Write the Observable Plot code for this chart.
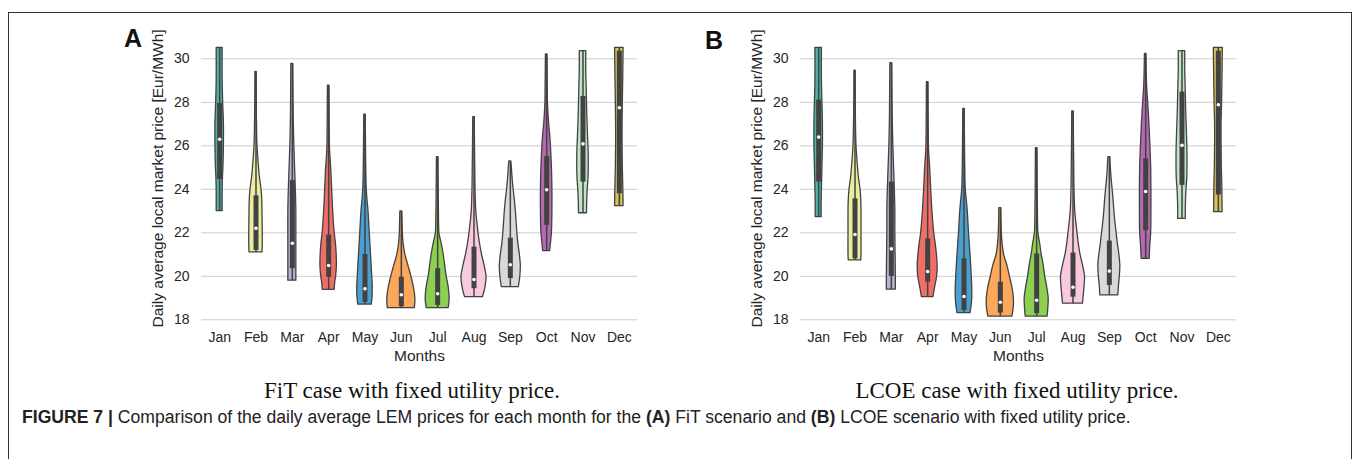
<!DOCTYPE html>
<html><head><meta charset="utf-8">
<script src="https://cdn.jsdelivr.net/npm/d3@7"></script>
<script src="https://cdn.jsdelivr.net/npm/@observablehq/plot@0.6"></script>
<style>
body{margin:0;background:#fff;}
#page{position:relative;width:1356px;height:459px;overflow:hidden;font-family:"Liberation Sans",Arial,sans-serif;}
.frame{position:absolute;left:8px;top:11.5px;width:1342px;height:480px;border:1.5px solid #333;border-bottom:none;}
.panel{position:absolute;top:0;}
.letter{position:absolute;font-weight:bold;font-size:25px;line-height:1;color:#111;}
.sub{position:absolute;font-family:"Liberation Serif","Times New Roman",serif;font-size:23px;line-height:1;color:#111;transform:translateX(-50%);white-space:nowrap;}
.caption{position:absolute;left:22px;font-size:17.6px;line-height:1;color:#222;white-space:nowrap;}
</style></head>
<body>
<div id="page">
  <div class="frame"></div>
  <div class="panel" id="pa" style="left:141px"></div>
  <div class="panel" id="pb" style="left:740px"></div>
  <div class="letter" style="left:124px;top:26px">A</div>
  <div class="letter" style="left:705px;top:28px">B</div>
  <div class="sub" style="left:412px;top:379px">FiT case with fixed utility price.</div>
  <div class="sub" style="left:1017px;top:379px">LCOE case with fixed utility price.</div>
  <div class="caption" style="top:408.5px"><b>FIGURE 7 |</b> Comparison of the daily average LEM prices for each month for the <b>(A)</b> FiT scenario and <b>(B)</b> LCOE scenario with fixed utility price.</div>
</div>
<script>
const months = ["Jan","Feb","Mar","Apr","May","Jun","Jul","Aug","Sep","Oct","Nov","Dec"];
const monthColors = ["#4fb3aa","#ecec9e","#b7b2d6","#ef6f68","#4a9fcf","#fba85a","#8dcf50","#f8c9df","#d9d9d9","#b569b3","#bfe5c5","#d5c25a"];
const yTicks = [18,20,22,24,26,28,30];

// Violin profiles: [price, relative width] (panel A: FiT)
const fitProfiles = [
  [[23.0,6],[24,6],[24.5,6.5],[25,7.5],[26,8.5],[27,8.5],[28,7],[29,6],[30.5,6]],
  [[21.1,13],[21.5,13.5],[22,13.5],[23,13],[23.5,12.5],[24,11],[24.5,8],[25,6],[26,3],[27,2],[28,1.5],[29.4,1.2]],
  [[19.8,8],[20.3,8],[21,8],[22,8],[23,8],[24,7],[25,5.5],[26,4],[27,3],[28,2.5],[29.77,2]],
  [[19.38,12],[19.7,13],[20,15],[20.5,16.5],[21,16],[21.5,14.5],[22,12],[23,9],[24,7],[25,5],[25.5,3.5],[26,2.5],[27,2],[28.77,1.5]],
  [[18.7,13.5],[19,15],[19.5,15.5],[20,14.5],[21,12],[22,9.5],[23,7],[23.5,5],[24,3.5],[25,2.5],[26,2],[27.43,1.5]],
  [[18.54,27],[18.8,28],[19,28],[19.5,25],[20,20],[20.5,14],[21,8],[21.5,4.5],[22,3],[22.5,2.5],[22.98,2]],
  [[18.54,22],[18.8,23.5],[19,24],[19.5,22],[20,18],[20.5,15],[21,12],[21.5,8],[21.8,5],[22,3.5],[23,2.5],[24,2],[25.48,1.5]],
  [[19.04,18],[19.5,23],[20,25],[20.5,21],[21,16],[21.5,12],[22,9],[22.5,6.5],[23,4.5],[24,3],[25,2.5],[26,2],[27.32,1.5]],
  [[19.5,17],[20,20],[20.5,21],[21,19],[21.5,16],[22,14],[22.5,12.5],[23,11],[23.5,9],[24,6.5],[24.5,4.5],[25,3],[25.28,2]],
  [[21.16,7],[21.5,8.5],[22,10.5],[23,11.5],[24,11.5],[25,10.5],[26,8.5],[26.5,7],[27,5],[27.5,3.5],[28,2.5],[29,2],[30.2,1.5]],
  [[22.9,8],[23.5,8.5],[24,9.5],[24.5,11],[25.5,11.5],[26.5,10],[27.5,8.5],[28.5,7.5],[29.5,6.5],[30.35,6.5]],
  [[23.23,8.5],[24,8],[25,7],[26,6.5],[27,6.5],[28,7],[29.5,8],[30.5,8.5]]
];
const fitQ1 = [24.45,21.19,20.35,19.95,18.8,18.6,18.66,19.43,19.9,22.34,24.33,23.8];
const fitMedian = [26.3,22.21,21.52,20.5,19.43,19.15,19.2,19.85,20.53,23.98,26.09,27.75];
const fitQ3 = [27.95,23.7,24.4,21.9,21.0,19.96,20.35,21.34,21.75,25.5,28.27,30.35];

// Panel B: LCOE
const lcoeProfiles = [
  [[22.72,6],[23.5,6],[24,6.5],[25,7.5],[26,8.5],[27,8.5],[28,7.5],[29,6.5],[30.5,6.5]],
  [[20.73,12.5],[21,13],[22,13],[23,13],[23.5,12.5],[24,11],[24.5,8],[25,6],[26,3],[27,2],[28,1.5],[29.46,1.2]],
  [[19.39,9],[20,9],[21,8.5],[22,8],[23,8],[24,7],[25,5.5],[26,4],[27,3],[28,2.5],[29.8,2]],
  [[19.04,11.5],[19.5,15],[20,19],[20.5,20],[21,18.5],[21.5,16],[22,13],[23,9.5],[24,7],[25,5],[25.5,3.5],[26,2.5],[27,2],[28.93,1.5]],
  [[18.31,13],[18.6,15],[19,16.5],[19.5,16.5],[20,15.5],[21,13],[22,10],[23,7.5],[23.5,5.5],[24,3.5],[25,2.5],[26,2],[27.7,1.5]],
  [[18.15,24],[18.6,27],[19,27],[19.5,24],[20,19],[20.5,14],[21,7.5],[21.5,4.5],[22,3],[22.5,2.5],[23.13,2]],
  [[18.15,22],[18.6,23.5],[19,24],[19.5,21],[20,17],[20.5,14],[21,10],[21.5,7],[22,3.5],[23,2.5],[24,2],[25.89,1.5]],
  [[18.74,20],[19,21],[19.5,23],[20,24],[20.5,20],[21,15],[21.5,11.5],[22,9],[22.5,6.5],[23,4.5],[24,3],[25,2.5],[26,2],[27.58,1.5]],
  [[19.12,18],[19.5,19],[20,21],[20.5,22],[21,20],[21.5,17],[22,14.5],[22.5,12],[23,10],[23.5,8.5],[24,6.5],[24.5,4.5],[25,3],[25.48,2]],
  [[20.8,8],[21.5,9.5],[22,11],[23,11.5],[24,11.5],[25,11],[26,9.5],[27,7.5],[28,5],[28.5,3.5],[29,2.5],[30.23,1.5]],
  [[22.64,7.5],[23.5,8],[24,9],[24.5,10.5],[25.5,11],[26.5,10],[27.5,8.5],[28.5,7.5],[29.5,6.5],[30.35,6.5]],
  [[22.95,8.5],[24,8],[25,7],[26,6.5],[27,6.5],[28,7.5],[29.5,8.5],[30.5,9]]
];
const lcoeQ1 = [24.33,20.8,19.99,19.73,18.43,18.31,18.28,19.04,19.58,22.1,24.18,23.74];
const lcoeMedian = [26.4,21.92,21.26,20.22,19.07,18.81,18.9,19.5,20.24,23.9,26.02,27.89];
const lcoeQ3 = [28.1,23.56,24.33,21.72,20.8,19.73,21.03,21.07,21.62,25.4,28.47,30.35];

const widthToHalf = 1 / 72.7; // relative width -> half width in category units
const ink = "#424242";

function panel(profiles, q1, med, q3) {
  const rows = [];
  profiles.forEach((pts, i) => pts.forEach(([v, w]) => rows.push({i, price: v, half: w * widthToHalf})));
  const boxes = months.map((m, i) => ({
    i, q1: q1[i], med: med[i], q3: q3[i],
    lo: profiles[i][0][0], hi: profiles[i][profiles[i].length - 1][0]
  }));
  const svg = Plot.plot({
    width: 516, height: 370,
    marginLeft: 60, marginRight: 20, marginTop: 36.55, marginBottom: 50.7,
    style: {fontFamily: "'Liberation Sans', Arial, sans-serif", fontSize: "14px", color: "#262626", background: "transparent", overflow: "visible"},
    color: {type: "identity"},
    x: {domain: [-0.5, 11.5], ticks: d3.range(12), tickFormat: i => months[i], tickSize: 0, tickPadding: 12, label: "Months", labelAnchor: "center", labelOffset: 41, labelArrow: "none"},
    y: {domain: [18, 31], ticks: yTicks, tickSize: 0, tickPadding: 12, label: "Daily average local market price [Eur/MWh]", labelAnchor: "center", labelOffset: 50, labelArrow: "none"},
    marks: [
      Plot.gridY(yTicks, {stroke: "#cccccc", strokeOpacity: 1, strokeWidth: 1}),
      Plot.areaX(rows, {y: "price", x1: d => d.i - d.half, x2: d => d.i + d.half, z: "i", fill: d => monthColors[d.i], stroke: ink, strokeWidth: 1.3, curve: "catmull-rom"}),
      Plot.ruleX(boxes, {x: "i", y1: "lo", y2: "hi", stroke: ink, strokeWidth: 1.5}),
      Plot.ruleX(boxes, {x: "i", y1: "q1", y2: "q3", stroke: ink, strokeWidth: 5}),
      Plot.dot(boxes, {x: "i", y: "med", r: 1.8, fill: "white", stroke: "none"})
    ]
  });
  svg.querySelectorAll('[aria-label="y-axis label"], [aria-label="x-axis label"]').forEach(g => g.style.fontSize = "15.5px");
  return svg;
}
document.getElementById("pa").append(panel(fitProfiles, fitQ1, fitMedian, fitQ3));
document.getElementById("pb").append(panel(lcoeProfiles, lcoeQ1, lcoeMedian, lcoeQ3));
</script>
</body></html>
